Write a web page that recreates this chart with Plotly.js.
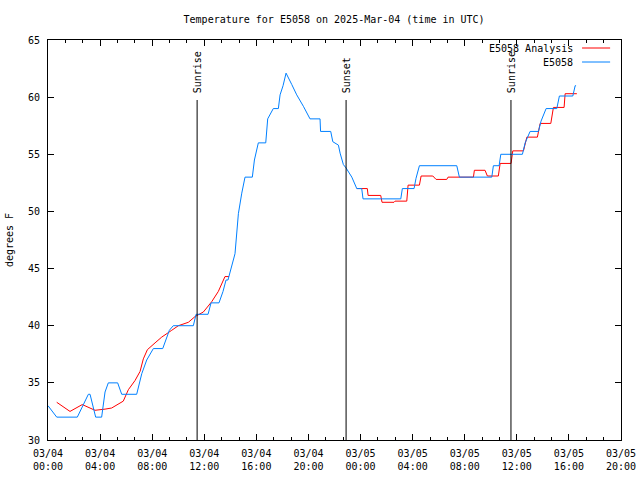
<!DOCTYPE html>
<html>
<head>
<meta charset="utf-8">
<script src="https://cdn.plot.ly/plotly-3.0.1.min.js"></script>
<style>html,body{margin:0;padding:0;background:#fff;}#chart{width:640px;height:480px;}</style>
</head>
<body>
<div id="chart"></div>
<script>
// Hours since 2025-03-04 00:00 UTC
const obsHours = [0.0,0.67,2.25,3.10,3.23,3.66,4.12,4.38,4.63,5.35,5.66,6.81,7.20,7.58,8.09,8.81,9.32,9.62,11.16,11.37,12.29,12.52,13.13,13.44,13.67,13.82,14.36,14.62,14.88,15.13,15.69,15.85,16.15,16.72,16.87,17.30,17.69,17.82,18.05,18.28,18.72,19.10,19.61,20.12,20.89,20.93,21.71,21.87,22.30,22.43,22.68,22.89,23.33,23.71,24.09,24.19,27.09,27.21,28.11,28.26,28.52,31.39,31.59,34.08,34.20,34.64,34.77,36.43,36.64,37.02,37.66,37.86,38.25,39.07,39.27,40.30,40.48,40.55];
const obsTemp  = [33.0,32.0,32.0,34.0,34.0,32.0,32.0,34.2,35.0,35.0,34.0,34.0,35.8,37.0,38.0,38.0,39.6,40.0,40.0,41.0,41.0,42.0,42.0,43.0,44.0,44.0,46.3,49.8,51.6,53.0,53.0,54.5,56.0,56.0,58.1,59.0,59.0,60.2,61.0,62.1,61.1,60.2,59.2,58.1,58.1,57.0,57.0,56.1,55.8,55.1,54.1,53.8,53.0,52.0,52.0,51.1,51.1,52.0,52.0,52.9,54.0,54.0,53.0,53.0,54.0,54.0,55.0,55.0,56.0,57.0,57.0,57.9,59.0,59.0,60.1,60.1,61.0,61.0];

const anaHours = [0.67,1.69,2.63,3.61,4.38,4.89,5.78,6.17,6.68,7.07,7.32,7.63,8.22,8.73,9.50,10.01,10.78,11.29,11.93,12.57,13.08,13.59,13.90,null,23.71,24.52,24.58,25.55,25.65,26.57,26.65,27.55,27.65,28.52,28.65,29.55,29.80,30.62,30.72,32.67,32.74,33.56,33.74,34.58,34.72,35.56,35.69,36.51,36.77,37.58,37.79,38.61,38.81,39.63,39.71,40.61];
const anaTemp  = [33.3,32.5,33.1,32.6,32.7,32.8,33.4,34.4,35.2,36.0,37.1,37.9,38.5,39.0,39.6,40.0,40.3,40.8,41.2,42.1,43.0,44.3,44.3,null,52.0,52.0,51.4,51.4,50.8,50.8,50.9,50.9,52.3,52.3,53.1,53.1,52.8,52.8,53.0,53.0,53.6,53.6,53.1,53.1,54.2,54.2,55.3,55.3,56.5,56.5,57.7,57.7,59.1,59.1,60.3,60.3];

const sunHours  = [11.45, 22.89, 35.55];
const sunLabels = ["Sunrise", "Sunset", "Sunrise"];

const tickHours = [0,4,8,12,16,20,24,28,32,36,40,44];
const tickDates = ["03/04","03/04","03/04","03/04","03/04","03/04","03/05","03/05","03/05","03/05","03/05","03/05"];
const tickTimes = ["00:00","04:00","08:00","12:00","16:00","20:00","00:00","04:00","08:00","12:00","16:00","20:00"];

const seriesNames = ["E5058 Analysis", "E5058"];
const seriesColors = ["#ff0000", "#0080ff"];

const FONT = "DejaVu Sans Mono, monospace";

const traces = [
  {x: anaHours, y: anaTemp, name: seriesNames[0], mode: "lines", line: {color: seriesColors[0], width: 1}, connectgaps: false, showlegend: false},
  {x: obsHours, y: obsTemp, name: seriesNames[1], mode: "lines", line: {color: seriesColors[1], width: 1}, showlegend: false}
];

const shapes = [];
const annotations = [];
sunHours.forEach((h, i) => {
  shapes.push({type: "line", xref: "x", yref: "paper", x0: h, x1: h, y0: 0, y1: 0.85, line: {color: "#000", width: 1}});
  annotations.push({x: h, xref: "x", y: 0.862, yref: "paper", text: sunLabels[i], textangle: -90, showarrow: false, xanchor: "center", yanchor: "bottom", font: {family: FONT, size: 10, color: "#000"}});
});
// legend (gnuplot style: text then sample line)
const legY = [0.98, 0.945];
seriesNames.forEach((n, i) => {
  annotations.push({x: 0.92, xref: "paper", y: legY[i], yref: "paper", text: n, showarrow: false, xanchor: "right", yanchor: "middle", font: {family: FONT, size: 10, color: "#000"}});
  shapes.push({type: "line", xref: "paper", yref: "paper", x0: 0.932, x1: 0.981, y0: legY[i], y1: legY[i], line: {color: seriesColors[i], width: 1}});
});

const layout = {
  width: 640, height: 480,
  margin: {l: 48, r: 19, t: 40, b: 40},
  paper_bgcolor: "#fff", plot_bgcolor: "#fff",
  font: {family: FONT, size: 10, color: "#000"},
  title: {text: "Temperature for E5058 on 2025-Mar-04 (time in UTC)", x: 0.522, xanchor: "center", y: 0.96, yanchor: "middle", font: {family: FONT, size: 10}},
  xaxis: {
    range: [0, 44], tickmode: "array", tickvals: tickHours,
    ticktext: tickDates.map((d, i) => d + "<br>" + tickTimes[i]),
    ticks: "inside", ticklen: 6, tickcolor: "#000", showline: true, linecolor: "#000", linewidth: 1,
    mirror: "allticks", showgrid: false, zeroline: false, ticklabelstandoff: 4,
    minor: {dtick: 4/3, tick0: 0, ticks: "inside", ticklen: 3, tickcolor: "#000", showgrid: false},
    tickfont: {family: FONT, size: 10}
  },
  yaxis: {
    range: [30, 65], dtick: 5, tick0: 30,
    ticks: "inside", ticklen: 6, tickcolor: "#000", showline: true, linecolor: "#000", linewidth: 1,
    mirror: "allticks", showgrid: false, zeroline: false, ticklabelstandoff: 5,
    title: {text: "degrees F", font: {family: FONT, size: 10}, standoff: 12},
    tickfont: {family: FONT, size: 10}
  },
  shapes: shapes,
  annotations: annotations
};

Plotly.newPlot("chart", traces, layout, {staticPlot: true, displayModeBar: false});
</script>
</body>
</html>
